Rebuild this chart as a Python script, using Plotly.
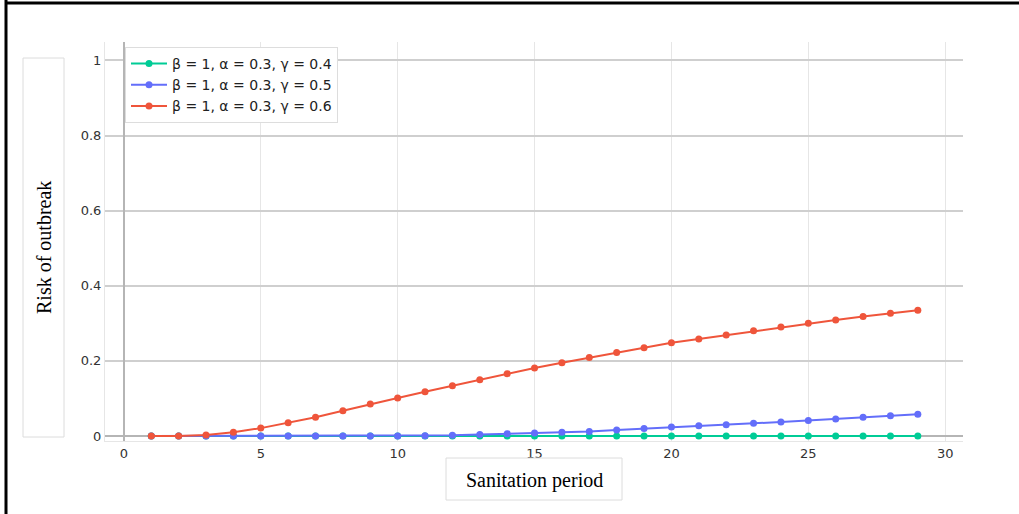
import plotly.graph_objects as go

# Sanitation period (days) and outbreak risk for three recovery rates
periods = list(range(1, 30))
risk_g04 = [0.0] * 29
risk_g05 = [0.0, 0.0, 0.0, 0.0, 0.0, 0.0, 0.0, 0.0, 0.0, 0.0,
            0.001, 0.002, 0.004, 0.006, 0.008, 0.010, 0.012, 0.016, 0.020, 0.024,
            0.027, 0.030, 0.034, 0.037, 0.041, 0.045, 0.050, 0.054, 0.058]
risk_g06 = [0.0, 0.0, 0.003, 0.010, 0.021, 0.035, 0.050, 0.067, 0.085, 0.101,
            0.118, 0.134, 0.150, 0.166, 0.181, 0.195, 0.209, 0.222, 0.235, 0.248,
            0.258, 0.269, 0.280, 0.290, 0.300, 0.309, 0.318, 0.327, 0.335]

series_names = ["β = 1, α = 0.3, γ = 0.4",
                "β = 1, α = 0.3, γ = 0.5",
                "β = 1, α = 0.3, γ = 0.6"]
series_colors = ["#00cc96", "#636efa", "#ef553b"]
series_values = [risk_g04, risk_g05, risk_g06]

y_ticks = [0, 0.2, 0.4, 0.6, 0.8, 1]
y_tick_labels = ["0", "0.2", "0.4", "0.6", "0.8", "1"]
x_ticks = [0, 5, 10, 15, 20, 25, 30]

fig = go.Figure()
for name, color, vals in zip(series_names, series_colors, series_values):
    fig.add_trace(go.Scatter(
        x=periods, y=vals, name=name, mode="lines+markers",
        line=dict(color=color, width=2),
        marker=dict(color=color, size=7),
    ))

W, H = 1019, 514
L, R, T, B = 105, 56, 42, 73
pw, ph = W - L - R, H - T - B


def px(x):
    return (x - L) / pw


def py(y):
    return (H - B - y) / ph


shapes = [
    # outer frame (left and top edges)
    dict(type="line", xref="paper", yref="paper", x0=px(6), x1=px(6), y0=py(0), y1=py(H),
         line=dict(color="black", width=3)),
    dict(type="line", xref="paper", yref="paper", x0=px(5), x1=px(W), y0=py(3), y1=py(3),
         line=dict(color="black", width=3)),
    # boxes round the axis titles
    dict(type="rect", xref="paper", yref="paper", x0=px(23), x1=px(64), y0=py(437), y1=py(58),
         line=dict(color="#dcdcdc", width=1)),
    dict(type="rect", xref="paper", yref="paper", x0=px(446), x1=px(622), y0=py(500), y1=py(458),
         line=dict(color="#dcdcdc", width=1)),
]

annotations = [
    dict(text="Risk of outbreak", xref="paper", yref="paper", x=px(44), y=py(248),
         showarrow=False, textangle=-90, xanchor="center", yanchor="middle",
         font=dict(family="Liberation Serif", size=20, color="black")),
    dict(text="Sanitation period", xref="paper", yref="paper", x=px(534), y=py(480),
         showarrow=False, xanchor="center", yanchor="middle",
         font=dict(family="Liberation Serif", size=20, color="black")),
]

fig.update_layout(
    width=W, height=H,
    margin=dict(l=L, r=R, t=T, b=B),
    paper_bgcolor="white", plot_bgcolor="white",
    font=dict(family="DejaVu Sans", size=13, color="#333"),
    xaxis=dict(range=[-0.69, 30.65], tickvals=x_ticks, showgrid=True,
               gridcolor="#e6e6e6", gridwidth=1, zeroline=True, zerolinecolor="#b5b5b5",
               zerolinewidth=2, showline=True, linecolor="#e6e6e6", linewidth=1,
               ticks="", fixedrange=True, tickfont=dict(size=13)),
    yaxis=dict(range=[-0.0133, 1.049], tickvals=y_ticks, ticktext=y_tick_labels,
               showgrid=True, gridcolor="#cfcfcf", gridwidth=2, zeroline=True,
               zerolinecolor="#b5b5b5", zerolinewidth=2, showline=True,
               linecolor="#e6e6e6", linewidth=1, ticks="", fixedrange=True,
               tickfont=dict(size=13)),
    legend=dict(x=px(125), y=py(47), xanchor="left", yanchor="top",
                bgcolor="white", bordercolor="#dddddd", borderwidth=1,
                itemwidth=36,
                font=dict(family="DejaVu Sans", size=14, color="#222")),
    showlegend=True,
    shapes=shapes,
    annotations=annotations,
)

fig.write_html("out.html")
